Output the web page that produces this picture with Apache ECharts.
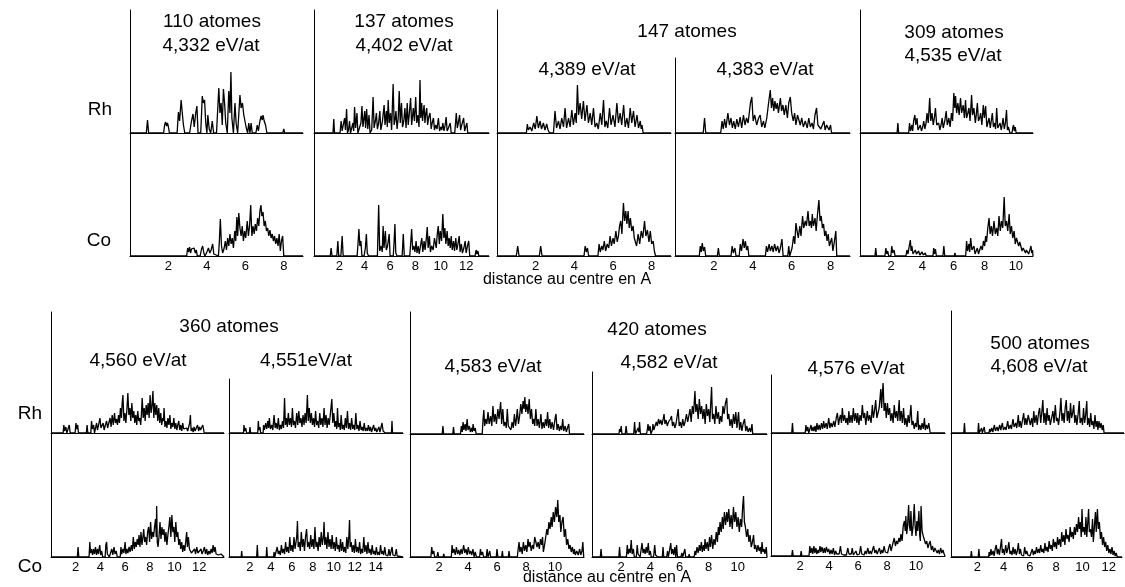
<!DOCTYPE html>
<html><head><meta charset="utf-8">
<script src="https://cdn.jsdelivr.net/npm/echarts@6/dist/echarts.min.js"></script>
<style>html,body{margin:0;padding:0;background:#fff}#c{width:1125px;height:587px}</style>
</head><body><div id="c"></div>
<script>
// ---- data: [distance (Å), intensity] ----
const rh110 = [[0,0],[0.85,0],[0.91,13],[0.97,0],[1.75,0],[1.8,8],[1.85,11],[1.9,7],[1.95,10],[2.0,6],[2.05,0],[2.45,0],[2.52,21],[2.58,12],[2.66,33],[2.72,20],[2.78,8],[2.85,0],[3.1,0],[3.2,12],[3.28,19],[3.34,6],[3.42,20],[3.48,27],[3.54,0],[3.68,0],[3.76,37],[3.82,30],[3.88,33],[3.94,10],[4.0,0],[4.05,18],[4.12,4],[4.2,0],[4.28,12],[4.35,0],[4.5,0],[4.62,45],[4.68,20],[4.74,30],[4.8,8],[4.86,44],[4.92,30],[4.98,10],[5.06,0],[5.14,42],[5.2,20],[5.25,61],[5.3,15],[5.38,0],[5.46,30],[5.52,10],[5.6,0],[5.72,38],[5.78,25],[5.85,30],[5.92,18],[5.98,20],[6.05,5],[6.12,0],[6.18,10],[6.24,0],[6.3,10],[6.36,0],[6.55,0],[6.62,8],[6.68,2],[6.76,12],[6.82,17],[6.88,13],[6.92,18],[6.98,12],[7.05,8],[7.12,0],[7.95,0],[8.0,4],[8.05,0],[9,0]];
const co110 = [[0,0],[1.97,0],[2.0,1],[2.03,0],[2.95,0],[3.0,8],[3.05,4],[3.1,9],[3.15,3],[3.2,7],[3.27,5],[3.33,8],[3.4,3],[3.45,6],[3.5,0],[3.65,0],[3.72,7],[3.78,10],[3.84,3],[3.9,0],[4.0,4],[4.08,8],[4.15,3],[4.22,6],[4.3,12],[4.36,2],[4.42,0],[4.6,0],[4.65,15],[4.7,37],[4.76,10],[4.82,3],[4.9,8],[4.96,15],[5.02,6],[5.08,18],[5.14,10],[5.2,22],[5.26,12],[5.32,18],[5.38,8],[5.45,25],[5.5,15],[5.56,39],[5.6,20],[5.66,43],[5.72,28],[5.78,20],[5.84,30],[5.9,15],[5.96,25],[6.02,18],[6.1,35],[6.16,20],[6.22,30],[6.28,51],[6.34,20],[6.4,30],[6.46,22],[6.52,32],[6.58,25],[6.64,38],[6.7,30],[6.76,45],[6.81,51],[6.86,40],[6.92,44],[6.98,30],[7.04,35],[7.1,25],[7.16,28],[7.22,20],[7.28,26],[7.34,18],[7.4,22],[7.46,15],[7.52,20],[7.58,12],[7.64,18],[7.7,10],[7.76,22],[7.82,5],[7.88,15],[7.94,20],[8.0,0],[9,0]];
const rh137 = [[0,0],[1.5,0],[1.56,14],[1.62,0],[2.05,0],[2.14,12],[2.22,2],[2.3,4],[2.41,15],[2.48,3],[2.57,24],[2.64,0],[2.72,3],[2.8,12],[2.88,0],[3.0,2],[3.07,10],[3.13,2],[3.2,26],[3.28,5],[3.39,20],[3.46,0],[3.6,2],[3.7,10],[3.78,27],[3.86,6],[4.0,22],[4.07,5],[4.15,24],[4.24,4],[4.34,18],[4.42,0],[4.55,3],[4.66,36],[4.74,5],[4.84,12],[4.92,20],[5.0,4],[5.1,10],[5.19,22],[5.27,3],[5.4,12],[5.53,28],[5.6,8],[5.71,22],[5.78,6],[5.85,33],[5.93,10],[6.03,20],[6.12,3],[6.24,49],[6.32,8],[6.4,14],[6.46,22],[6.55,4],[6.64,15],[6.72,42],[6.8,10],[6.9,30],[6.98,6],[7.08,12],[7.17,25],[7.26,5],[7.35,30],[7.43,8],[7.52,20],[7.62,35],[7.7,8],[7.78,18],[7.83,25],[7.92,12],[8.02,36],[8.1,10],[8.2,18],[8.28,6],[8.36,53],[8.42,15],[8.49,30],[8.56,12],[8.63,22],[8.68,28],[8.75,10],[8.82,20],[8.89,25],[8.96,8],[9.05,16],[9.15,20],[9.24,4],[9.32,10],[9.42,15],[9.5,3],[9.6,8],[9.7,4],[9.81,15],[9.9,2],[10.0,6],[10.08,3],[10.16,10],[10.25,2],[10.34,8],[10.42,16],[10.5,2],[10.6,5],[10.74,10],[10.82,0],[11.1,0],[11.22,20],[11.3,5],[11.38,10],[11.48,18],[11.56,3],[11.65,8],[11.8,15],[11.88,2],[11.96,6],[12.06,10],[12.12,0],[13.8,0]];
const co137 = [[0,0],[1.28,0],[1.35,8],[1.42,0],[1.8,0],[1.88,15],[1.95,0],[2.12,0],[2.22,20],[2.3,0],[3.4,0],[3.48,14],[3.54,27],[3.62,10],[3.7,15],[3.78,0],[3.95,0],[4.05,8],[4.13,22],[4.2,3],[4.3,0],[5.0,0],[5.1,51],[5.18,5],[5.3,10],[5.38,4],[5.45,30],[5.52,8],[5.63,25],[5.7,6],[5.8,10],[5.93,22],[6.0,0],[6.25,0],[6.32,15],[6.38,32],[6.45,3],[6.55,0],[6.95,0],[7.04,22],[7.12,0],[7.55,0],[7.62,12],[7.7,27],[7.78,6],[7.88,10],[7.96,4],[8.05,15],[8.12,3],[8.22,10],[8.3,2],[8.42,12],[8.5,18],[8.58,4],[8.68,15],[8.76,6],[8.86,18],[8.93,29],[9.0,8],[9.1,20],[9.18,4],[9.28,10],[9.4,6],[9.5,18],[9.56,20],[9.64,8],[9.72,22],[9.8,30],[9.88,12],[9.96,25],[10.06,15],[10.16,42],[10.24,18],[10.32,28],[10.4,12],[10.5,25],[10.58,10],[10.66,18],[10.74,8],[10.82,20],[10.9,6],[11.0,15],[11.08,5],[11.18,18],[11.26,6],[11.35,12],[11.45,20],[11.52,4],[11.62,12],[11.7,3],[11.82,8],[11.92,15],[12.0,3],[12.1,10],[12.2,15],[12.28,0],[12.7,0],[12.78,6],[12.85,2],[12.92,5],[13.0,0],[13.8,0]];
const rh147a = [[0,0],[1.52,0],[1.57,9],[1.62,3],[1.71,6],[1.8,2],[1.9,10],[1.98,4],[2.06,17],[2.14,5],[2.23,12],[2.3,4],[2.4,10],[2.48,3],[2.57,9],[2.64,3],[2.72,0],[2.92,0],[3.0,22],[3.08,5],[3.18,12],[3.26,4],[3.35,15],[3.44,6],[3.52,25],[3.6,5],[3.7,15],[3.78,6],[3.87,23],[3.95,8],[4.04,20],[4.1,10],[4.16,48],[4.22,18],[4.3,30],[4.38,14],[4.47,32],[4.55,12],[4.65,28],[4.73,10],[4.82,20],[4.9,8],[4.99,25],[5.07,6],[5.16,10],[5.24,4],[5.34,20],[5.42,8],[5.51,33],[5.58,6],[5.65,12],[5.73,5],[5.82,25],[5.9,8],[6.0,18],[6.1,6],[6.2,30],[6.28,10],[6.37,20],[6.45,8],[6.55,28],[6.63,6],[6.72,15],[6.8,5],[6.89,25],[6.97,10],[7.06,22],[7.14,6],[7.24,18],[7.32,5],[7.41,12],[7.46,4],[7.5,8],[7.56,0],[9,0]];
const co147a = [[0,0],[1.0,0],[1.07,10],[1.14,0],[2.19,0],[2.26,10],[2.33,0],[4.5,0],[4.56,10],[4.62,4],[4.68,8],[4.74,0],[5.22,0],[5.28,12],[5.34,4],[5.42,10],[5.48,6],[5.55,15],[5.62,5],[5.7,12],[5.78,8],[5.85,20],[5.92,10],[6.0,18],[6.06,12],[6.15,25],[6.22,14],[6.28,20],[6.34,30],[6.4,35],[6.46,22],[6.54,53],[6.6,35],[6.66,45],[6.72,32],[6.78,45],[6.84,28],[6.9,38],[6.97,25],[7.04,30],[7.1,18],[7.16,20],[7.22,10],[7.3,22],[7.38,12],[7.46,25],[7.54,18],[7.63,35],[7.7,20],[7.78,26],[7.86,14],[7.93,25],[8.0,12],[8.08,15],[8.14,5],[8.2,0],[9,0]];
const rh147b = [[0,0],[1.45,0],[1.52,15],[1.58,0],[2.35,0],[2.42,12],[2.48,4],[2.55,14],[2.62,5],[2.72,20],[2.8,8],[2.88,15],[2.95,5],[3.02,12],[3.1,4],[3.18,14],[3.26,6],[3.35,16],[3.43,5],[3.52,18],[3.6,8],[3.68,15],[3.76,10],[3.88,30],[3.95,36],[4.02,12],[4.1,18],[4.2,8],[4.3,15],[4.38,18],[4.46,6],[4.55,12],[4.62,5],[4.72,15],[4.8,28],[4.9,43],[4.96,25],[5.02,35],[5.08,22],[5.14,32],[5.2,24],[5.26,30],[5.32,20],[5.42,35],[5.48,22],[5.55,28],[5.62,18],[5.7,28],[5.78,15],[5.85,30],[5.93,36],[6.0,20],[6.08,12],[6.15,20],[6.22,8],[6.3,18],[6.36,20],[6.44,8],[6.52,15],[6.6,6],[6.7,12],[6.8,5],[6.88,15],[6.96,6],[7.05,10],[7.12,4],[7.2,18],[7.28,25],[7.35,8],[7.42,10],[7.5,4],[7.58,8],[7.66,12],[7.72,3],[7.8,8],[7.86,10],[7.92,3],[8.0,8],[8.05,0],[9,0]];
const co147b = [[0,0],[1.25,0],[1.3,10],[1.35,4],[1.4,13],[1.46,5],[1.52,9],[1.58,0],[2.18,0],[2.23,8],[2.28,0],[2.88,0],[2.94,10],[3.0,3],[3.08,8],[3.14,0],[3.3,0],[3.36,12],[3.42,5],[3.5,17],[3.56,8],[3.62,15],[3.68,6],[3.74,10],[3.8,0],[4.65,0],[4.7,10],[4.76,4],[4.84,12],[4.9,5],[4.98,10],[5.05,4],[5.12,12],[5.2,5],[5.28,10],[5.35,3],[5.42,8],[5.5,17],[5.56,0],[5.8,0],[5.85,10],[5.9,0],[6.02,8],[6.1,20],[6.16,12],[6.22,33],[6.28,25],[6.34,18],[6.42,30],[6.48,20],[6.56,40],[6.62,28],[6.7,35],[6.76,30],[6.84,45],[6.9,30],[6.96,35],[7.02,28],[7.06,42],[7.12,30],[7.2,38],[7.26,25],[7.32,40],[7.4,56],[7.46,35],[7.52,40],[7.58,28],[7.64,32],[7.7,20],[7.76,25],[7.82,15],[7.88,22],[7.94,10],[8.0,14],[8.06,18],[8.12,5],[8.2,15],[8.27,25],[8.32,0],[9,0]];
const rh309 = [[0,0],[2.38,0],[2.43,10],[2.48,0],[3.12,0],[3.18,10],[3.24,2],[3.33,8],[3.38,2],[3.44,12],[3.52,18],[3.58,8],[3.66,15],[3.72,3],[3.8,5],[3.87,8],[3.94,2],[4.02,6],[4.09,12],[4.16,4],[4.24,10],[4.3,20],[4.38,10],[4.47,35],[4.54,12],[4.62,20],[4.7,8],[4.77,15],[4.84,25],[4.92,8],[5.0,6],[5.05,10],[5.12,3],[5.2,8],[5.27,15],[5.34,5],[5.44,12],[5.53,22],[5.6,8],[5.7,15],[5.78,6],[5.87,20],[5.94,12],[6.02,40],[6.08,25],[6.13,37],[6.2,20],[6.28,30],[6.36,18],[6.45,35],[6.52,20],[6.62,28],[6.7,15],[6.77,33],[6.84,15],[6.92,20],[6.99,25],[7.06,12],[7.16,38],[7.22,18],[7.31,25],[7.4,10],[7.46,18],[7.53,30],[7.6,12],[7.68,15],[7.74,20],[7.82,8],[7.91,28],[7.98,15],[8.06,27],[8.14,6],[8.2,10],[8.28,15],[8.36,5],[8.42,12],[8.49,20],[8.56,6],[8.64,10],[8.7,4],[8.77,25],[8.84,5],[8.92,6],[8.99,10],[9.06,3],[9.12,8],[9.18,15],[9.26,4],[9.33,10],[9.4,23],[9.46,3],[9.52,6],[9.57,8],[9.62,0],[9.75,0],[9.8,5],[9.85,8],[9.9,2],[9.96,6],[10.02,0],[11.1,0]];
const co309 = [[0,0],[0.96,0],[1.01,8],[1.06,0],[1.6,0],[1.66,8],[1.72,2],[1.78,5],[1.84,0],[1.98,0],[2.04,10],[2.1,3],[2.19,6],[2.25,0],[2.95,0],[3.01,6],[3.08,2],[3.16,10],[3.23,16],[3.28,5],[3.33,10],[3.4,2],[3.48,4],[3.55,6],[3.62,2],[3.7,4],[3.76,5],[3.84,1],[3.92,3],[3.98,4],[4.06,1],[4.12,2],[4.19,3],[4.25,0],[4.68,0],[4.73,8],[4.78,2],[4.84,7],[4.9,0],[5.32,0],[5.38,10],[5.44,0],[6.05,0],[6.09,3],[6.13,0],[6.78,0],[6.84,15],[6.9,5],[6.99,12],[7.04,4],[7.1,18],[7.18,6],[7.24,8],[7.31,10],[7.38,2],[7.45,5],[7.53,8],[7.6,2],[7.68,4],[7.76,10],[7.85,6],[7.92,15],[8.0,10],[8.06,20],[8.12,14],[8.2,28],[8.28,38],[8.35,22],[8.43,30],[8.5,20],[8.6,35],[8.68,22],[8.77,28],[8.84,20],[8.92,40],[9.0,25],[9.08,35],[9.16,28],[9.25,59],[9.32,30],[9.4,35],[9.48,25],[9.57,42],[9.64,22],[9.72,30],[9.8,18],[9.89,25],[9.96,12],[10.04,18],[10.1,20],[10.18,10],[10.25,14],[10.32,12],[10.4,5],[10.47,8],[10.54,10],[10.62,3],[10.68,6],[10.75,8],[10.82,2],[10.9,6],[10.97,10],[11.02,3],[11.07,6],[11.1,0]];
const rh360a = [[0,0],[0.98,0],[1.04,8],[1.1,2],[1.2,6],[1.28,0],[1.4,5],[1.48,8],[1.55,0],[1.95,0],[2.02,10],[2.08,4],[2.16,8],[2.22,0],[2.86,0],[2.92,8],[2.98,0],[3.22,0],[3.28,12],[3.35,4],[3.45,8],[3.52,0],[3.64,0],[3.69,10],[3.76,3],[3.85,8],[3.96,15],[4.04,5],[4.12,4],[4.22,10],[4.3,3],[4.4,8],[4.5,12],[4.58,5],[4.68,10],[4.78,15],[4.86,6],[4.95,18],[5.04,8],[5.14,20],[5.22,10],[5.3,14],[5.38,8],[5.46,18],[5.54,10],[5.62,25],[5.7,15],[5.76,30],[5.82,38],[5.9,12],[5.98,20],[6.06,10],[6.15,25],[6.22,40],[6.3,18],[6.38,25],[6.46,12],[6.54,30],[6.62,15],[6.7,22],[6.78,10],[6.86,18],[6.94,8],[7.02,22],[7.1,12],[7.18,15],[7.26,8],[7.32,20],[7.38,35],[7.46,15],[7.54,25],[7.62,12],[7.7,28],[7.78,18],[7.86,30],[7.94,15],[8.02,38],[8.1,20],[8.18,28],[8.25,42],[8.32,15],[8.4,30],[8.48,18],[8.56,28],[8.64,12],[8.72,25],[8.8,10],[8.88,20],[8.96,8],[9.04,15],[9.1,12],[9.15,25],[9.22,6],[9.3,12],[9.38,5],[9.46,15],[9.54,8],[9.62,18],[9.7,4],[9.78,10],[9.86,6],[9.94,15],[10.02,4],[10.1,10],[10.18,3],[10.26,8],[10.34,12],[10.42,3],[10.5,8],[10.58,2],[10.66,10],[10.74,4],[10.82,6],[10.9,2],[10.98,5],[11.06,2],[11.14,4],[11.22,10],[11.28,18],[11.34,2],[11.42,5],[11.5,1],[11.58,6],[11.66,2],[11.76,4],[11.86,8],[11.94,2],[12.02,6],[12.1,3],[12.2,5],[12.28,8],[12.35,10],[12.4,0],[14,0]];
const co360a = [[0,0],[2.13,0],[2.19,10],[2.25,0],[3.08,0],[3.14,15],[3.2,4],[3.28,8],[3.36,2],[3.44,8],[3.52,3],[3.6,10],[3.68,2],[3.76,8],[3.84,3],[3.94,12],[4.02,2],[4.1,6],[4.18,0],[4.38,0],[4.44,12],[4.5,15],[4.56,3],[4.64,5],[4.72,0],[4.86,0],[4.92,8],[5.0,2],[5.1,10],[5.18,3],[5.28,6],[5.36,0],[5.6,0],[5.66,10],[5.72,3],[5.82,8],[5.9,4],[6.0,15],[6.06,3],[6.14,8],[6.22,4],[6.32,10],[6.4,5],[6.5,12],[6.58,6],[6.66,20],[6.74,8],[6.82,15],[6.9,10],[6.98,18],[7.06,12],[7.12,22],[7.2,10],[7.28,25],[7.36,12],[7.44,20],[7.5,28],[7.58,15],[7.66,20],[7.74,12],[7.82,25],[7.9,30],[7.98,15],[8.06,35],[8.14,18],[8.22,25],[8.3,20],[8.38,30],[8.46,38],[8.52,20],[8.55,51],[8.6,15],[8.66,10],[8.74,20],[8.82,35],[8.9,18],[8.98,30],[9.06,22],[9.14,28],[9.22,15],[9.3,25],[9.38,12],[9.46,22],[9.54,30],[9.62,40],[9.7,20],[9.78,42],[9.86,25],[9.94,30],[10.02,15],[10.1,35],[10.18,20],[10.26,25],[10.34,12],[10.42,18],[10.5,8],[10.58,15],[10.66,5],[10.74,12],[10.82,6],[10.9,15],[10.98,25],[11.04,10],[11.12,20],[11.2,8],[11.28,10],[11.36,4],[11.44,6],[11.52,2],[11.62,8],[11.7,3],[11.8,10],[11.88,4],[11.96,6],[12.04,2],[12.14,8],[12.22,3],[12.32,6],[12.42,10],[12.5,3],[12.6,8],[12.68,2],[12.78,6],[12.86,3],[12.96,8],[13.04,4],[13.12,12],[13.2,5],[13.28,10],[13.36,3],[13.46,5],[13.56,2],[13.66,4],[13.76,3],[13.86,2],[14,0]];
const rh360b = [[0,0],[1.38,0],[1.43,8],[1.5,2],[1.6,5],[1.68,0],[1.95,0],[2.0,6],[2.06,0],[2.74,0],[2.8,12],[2.86,3],[2.95,6],[3.02,0],[3.25,0],[3.3,8],[3.38,3],[3.5,10],[3.6,4],[3.7,12],[3.78,5],[3.85,15],[3.95,4],[4.08,8],[4.18,3],[4.3,18],[4.4,5],[4.5,10],[4.6,4],[4.71,15],[4.8,3],[4.9,8],[5.0,4],[5.1,12],[5.2,5],[5.3,35],[5.38,8],[5.48,15],[5.56,6],[5.66,20],[5.76,8],[5.86,15],[5.96,6],[6.05,25],[6.14,8],[6.24,12],[6.34,5],[6.46,20],[6.56,8],[6.66,22],[6.76,10],[6.86,15],[6.96,6],[7.06,18],[7.16,8],[7.26,20],[7.36,10],[7.48,38],[7.56,12],[7.66,25],[7.76,10],[7.86,20],[7.96,8],[8.06,15],[8.16,6],[8.26,22],[8.36,8],[8.46,12],[8.56,5],[8.66,20],[8.76,8],[8.86,15],[8.96,6],[9.07,25],[9.16,8],[9.26,18],[9.36,5],[9.46,15],[9.56,8],[9.68,20],[9.81,34],[9.9,10],[10.0,20],[10.1,6],[10.2,12],[10.28,4],[10.35,25],[10.44,6],[10.54,10],[10.62,3],[10.7,18],[10.8,4],[10.9,8],[11.0,3],[11.1,15],[11.2,5],[11.3,22],[11.4,4],[11.5,10],[11.6,3],[11.7,15],[11.8,4],[11.9,8],[12.0,3],[12.1,20],[12.2,4],[12.3,8],[12.4,2],[12.5,12],[12.6,3],[12.7,6],[12.8,2],[12.9,10],[13.0,2],[13.1,5],[13.2,2],[13.3,8],[13.4,2],[13.5,6],[13.6,1],[13.8,8],[13.9,2],[14.0,5],[14.1,1],[14.3,6],[14.4,1],[14.6,10],[14.7,2],[14.8,4],[14.9,0],[15.5,0],[15.55,12],[15.6,0],[16.6,0]];
const co360b = [[0,0],[1.16,0],[1.21,6],[1.26,0],[2.64,0],[2.7,12],[2.76,0],[3.55,0],[3.6,10],[3.66,0],[4.25,0],[4.3,5],[4.36,0],[4.55,0],[4.6,10],[4.7,3],[4.8,6],[4.9,2],[5.0,12],[5.1,4],[5.2,8],[5.3,3],[5.4,15],[5.5,5],[5.6,10],[5.7,4],[5.8,20],[5.9,6],[6.0,12],[6.1,5],[6.2,20],[6.3,8],[6.4,10],[6.46,20],[6.53,36],[6.6,10],[6.7,15],[6.8,6],[6.9,25],[7.0,10],[7.1,18],[7.2,6],[7.3,20],[7.4,28],[7.5,10],[7.6,15],[7.7,8],[7.8,22],[7.9,10],[8.0,18],[8.1,8],[8.2,30],[8.3,10],[8.4,15],[8.5,6],[8.6,20],[8.7,10],[8.8,25],[8.9,12],[9.0,20],[9.07,35],[9.14,12],[9.24,20],[9.34,8],[9.44,25],[9.54,10],[9.64,18],[9.74,8],[9.84,22],[9.94,8],[10.04,15],[10.14,6],[10.24,20],[10.34,8],[10.44,12],[10.54,5],[10.64,18],[10.74,6],[10.84,15],[10.94,5],[11.04,10],[11.14,4],[11.24,20],[11.34,8],[11.44,22],[11.5,37],[11.56,10],[11.66,15],[11.76,5],[11.86,12],[11.96,4],[12.06,18],[12.16,5],[12.26,10],[12.36,4],[12.46,15],[12.56,3],[12.66,8],[12.76,4],[12.86,20],[12.96,5],[13.06,12],[13.16,3],[13.26,15],[13.36,4],[13.46,8],[13.56,2],[13.66,12],[13.76,3],[13.86,6],[13.96,2],[14.06,10],[14.16,2],[14.26,5],[14.36,2],[14.46,12],[14.56,3],[14.66,6],[14.76,2],[14.86,10],[14.96,2],[15.06,4],[15.16,1],[15.26,8],[15.36,1],[15.46,3],[15.56,10],[15.64,2],[15.74,4],[15.84,1],[15.96,8],[16.04,1],[16.14,3],[16.2,0],[16.6,0]];
const rh420a = [[0,0],[2.22,0],[2.27,8],[2.32,0],[2.95,0],[3.0,7],[3.05,0],[3.48,0],[3.54,8],[3.6,2],[3.66,12],[3.72,4],[3.8,10],[3.86,3],[3.94,15],[4.0,4],[4.1,8],[4.16,2],[4.24,6],[4.3,2],[4.35,10],[4.42,3],[4.5,6],[4.56,0],[4.98,0],[5.04,15],[5.09,24],[5.15,8],[5.22,15],[5.3,10],[5.38,22],[5.46,10],[5.56,18],[5.64,8],[5.72,28],[5.8,12],[5.88,20],[5.96,10],[6.06,25],[6.14,15],[6.25,32],[6.32,10],[6.4,25],[6.48,8],[6.56,12],[6.64,6],[6.71,25],[6.78,8],[6.88,10],[6.96,4],[7.04,12],[7.12,6],[7.2,20],[7.28,8],[7.34,15],[7.4,25],[7.48,10],[7.56,18],[7.64,30],[7.72,20],[7.8,33],[7.86,25],[7.92,37],[7.98,22],[8.06,30],[8.14,20],[8.22,35],[8.3,15],[8.38,25],[8.46,10],[8.54,15],[8.6,8],[8.68,25],[8.76,8],[8.84,15],[8.92,6],[9.03,20],[9.1,5],[9.18,12],[9.26,6],[9.34,15],[9.42,8],[9.49,22],[9.56,6],[9.64,15],[9.72,5],[9.8,12],[9.9,4],[10.0,15],[10.07,20],[10.14,4],[10.22,10],[10.3,3],[10.38,8],[10.46,4],[10.53,15],[10.6,3],[10.7,8],[10.78,2],[10.86,6],[10.95,10],[11.0,0],[12,0]];
const co420a = [[0,0],[1.44,0],[1.5,10],[1.56,3],[1.64,6],[1.7,0],[1.86,0],[1.92,5],[1.98,0],[2.28,0],[2.33,3],[2.38,0],[2.85,0],[2.9,12],[2.96,4],[3.04,8],[3.12,2],[3.2,10],[3.28,3],[3.36,7],[3.44,2],[3.52,8],[3.6,3],[3.7,12],[3.78,4],[3.86,8],[3.94,2],[4.02,10],[4.1,3],[4.18,6],[4.26,2],[4.34,8],[4.42,0],[4.5,5],[4.58,0],[4.8,0],[4.86,8],[4.92,2],[5.0,5],[5.08,0],[5.26,0],[5.32,8],[5.38,0],[5.46,0],[5.5,6],[5.56,0],[5.95,0],[6.0,8],[6.06,0],[6.32,0],[6.37,6],[6.42,0],[6.78,0],[6.83,6],[6.88,0],[7.4,0],[7.46,8],[7.52,15],[7.58,5],[7.66,10],[7.74,3],[7.82,15],[7.9,6],[7.98,12],[8.06,5],[8.14,18],[8.2,10],[8.28,15],[8.36,6],[8.44,12],[8.52,8],[8.6,20],[8.68,22],[8.76,10],[8.84,15],[8.92,8],[9.0,18],[9.08,12],[9.14,20],[9.2,5],[9.28,12],[9.36,20],[9.44,28],[9.5,22],[9.58,35],[9.66,28],[9.74,40],[9.8,30],[9.88,45],[9.96,35],[10.04,50],[10.12,40],[10.19,57],[10.26,35],[10.34,42],[10.4,25],[10.48,35],[10.56,40],[10.64,20],[10.72,28],[10.8,12],[10.88,18],[10.96,8],[11.04,12],[11.12,5],[11.2,10],[11.28,3],[11.34,8],[11.4,2],[11.5,6],[11.6,2],[11.7,8],[11.78,2],[11.86,6],[11.92,15],[11.98,0],[12,0]];
const rh420b = [[0,0],[1.85,0],[1.89,5],[1.94,2],[2.0,8],[2.05,0],[2.28,0],[2.34,8],[2.4,0],[2.86,0],[2.92,12],[2.98,0],[3.1,0],[3.16,6],[3.22,2],[3.26,12],[3.32,0],[3.74,0],[3.8,5],[3.84,10],[3.9,3],[3.98,8],[4.04,0],[4.14,4],[4.18,10],[4.24,4],[4.32,8],[4.41,12],[4.48,8],[4.56,15],[4.64,10],[4.72,14],[4.8,9],[4.88,15],[4.94,20],[5.0,10],[5.08,14],[5.16,8],[5.24,12],[5.32,10],[5.38,15],[5.45,18],[5.52,8],[5.6,12],[5.68,6],[5.76,10],[5.84,8],[5.91,25],[5.98,8],[6.06,12],[6.14,6],[6.22,15],[6.3,8],[6.38,12],[6.48,20],[6.56,12],[6.64,18],[6.72,25],[6.8,12],[6.88,28],[6.96,20],[7.06,43],[7.12,22],[7.2,30],[7.28,15],[7.36,35],[7.44,20],[7.52,28],[7.6,15],[7.68,25],[7.76,10],[7.84,30],[7.92,18],[8.0,25],[8.08,12],[8.14,30],[8.2,47],[8.26,15],[8.34,20],[8.42,10],[8.5,28],[8.58,15],[8.67,22],[8.74,10],[8.82,18],[8.9,12],[8.98,28],[9.06,20],[9.14,30],[9.24,36],[9.3,15],[9.38,20],[9.46,8],[9.54,15],[9.62,6],[9.7,20],[9.78,10],[9.86,22],[9.94,6],[10.05,22],[10.12,4],[10.2,12],[10.28,3],[10.36,10],[10.46,15],[10.54,3],[10.62,8],[10.7,2],[10.8,6],[10.88,2],[10.97,10],[11.02,0],[12,0]];
const co420b = [[0,0],[0.57,0],[0.62,8],[0.67,0],[1.84,0],[1.89,10],[1.94,0],[2.36,0],[2.42,12],[2.48,3],[2.56,8],[2.62,4],[2.69,17],[2.75,3],[2.84,8],[2.9,0],[3.04,0],[3.1,12],[3.16,3],[3.24,5],[3.3,0],[3.38,0],[3.43,14],[3.5,4],[3.58,8],[3.64,3],[3.72,10],[3.78,4],[3.86,14],[3.92,2],[4.0,6],[4.06,0],[4.22,0],[4.3,12],[4.36,2],[4.44,4],[4.5,0],[4.82,0],[4.87,10],[4.92,0],[5.12,0],[5.18,6],[5.24,0],[5.34,0],[5.4,14],[5.46,3],[5.54,8],[5.6,2],[5.68,10],[5.74,0],[5.8,12],[5.86,0],[6.1,0],[6.16,4],[6.22,0],[6.32,0],[6.37,8],[6.42,0],[6.62,0],[6.66,3],[6.7,0],[7.0,0],[7.06,6],[7.12,2],[7.2,10],[7.28,4],[7.36,12],[7.42,6],[7.5,15],[7.56,5],[7.64,12],[7.7,6],[7.75,18],[7.82,8],[7.9,15],[7.98,6],[8.06,20],[8.12,10],[8.2,22],[8.28,8],[8.36,18],[8.44,12],[8.52,25],[8.6,15],[8.66,30],[8.72,22],[8.78,35],[8.86,25],[8.94,40],[9.0,28],[9.08,45],[9.16,32],[9.24,45],[9.3,35],[9.38,48],[9.46,30],[9.54,42],[9.62,28],[9.7,50],[9.78,35],[9.86,45],[9.94,30],[10.02,40],[10.1,25],[10.18,38],[10.26,30],[10.33,50],[10.39,61],[10.45,35],[10.52,30],[10.6,20],[10.68,28],[10.76,15],[10.84,22],[10.92,10],[11.0,15],[11.08,22],[11.14,8],[11.22,12],[11.3,5],[11.38,12],[11.46,6],[11.54,10],[11.6,3],[11.66,15],[11.72,5],[11.8,8],[11.86,3],[11.95,10],[12,0]];
const rh420c = [[0,0],[1.43,0],[1.48,10],[1.53,0],[2.36,0],[2.41,8],[2.46,2],[2.54,6],[2.6,0],[2.7,0],[2.76,8],[2.82,2],[2.9,6],[2.96,2],[3.04,7],[3.1,1],[3.17,10],[3.24,3],[3.32,8],[3.4,3],[3.48,10],[3.56,4],[3.63,12],[3.7,5],[3.8,10],[3.88,4],[3.98,15],[4.06,5],[4.14,10],[4.22,6],[4.33,12],[4.4,6],[4.5,15],[4.58,20],[4.66,8],[4.72,14],[4.79,18],[4.86,10],[4.92,25],[5.0,12],[5.08,18],[5.16,10],[5.24,15],[5.3,8],[5.37,22],[5.44,10],[5.52,18],[5.6,10],[5.68,25],[5.76,12],[5.84,20],[5.92,10],[5.98,20],[6.06,8],[6.14,18],[6.22,12],[6.3,28],[6.38,15],[6.46,20],[6.54,8],[6.64,22],[6.72,12],[6.8,18],[6.9,10],[6.99,28],[7.06,15],[7.14,22],[7.22,33],[7.3,15],[7.38,20],[7.46,25],[7.52,35],[7.57,44],[7.63,25],[7.68,40],[7.73,50],[7.8,22],[7.88,30],[7.95,15],[8.03,30],[8.1,18],[8.18,25],[8.26,12],[8.34,20],[8.42,10],[8.5,28],[8.58,15],[8.66,22],[8.74,12],[8.84,33],[8.9,12],[8.98,22],[9.06,10],[9.14,25],[9.22,8],[9.3,15],[9.38,6],[9.46,18],[9.54,10],[9.65,28],[9.72,8],[9.8,12],[9.88,4],[9.96,10],[10.04,6],[10.12,22],[10.18,3],[10.26,8],[10.34,3],[10.42,10],[10.5,4],[10.58,15],[10.64,3],[10.72,8],[10.8,4],[10.88,10],[10.93,12],[10.98,0],[12,0]];
const co420c = [[0,0],[1.43,0],[1.48,6],[1.53,0],[2.03,0],[2.08,5],[2.13,0],[2.62,0],[2.68,10],[2.74,3],[2.82,8],[2.88,2],[2.96,10],[3.02,3],[3.1,8],[3.16,2],[3.24,6],[3.3,3],[3.38,10],[3.44,4],[3.52,9],[3.6,3],[3.68,8],[3.74,3],[3.82,9],[3.9,4],[3.98,7],[4.06,2],[4.14,6],[4.22,2],[4.3,8],[4.38,1],[4.46,5],[4.54,2],[4.62,4],[4.7,2],[4.79,10],[4.86,2],[4.94,4],[5.02,1],[5.1,3],[5.2,1],[5.3,8],[5.38,2],[5.46,4],[5.54,2],[5.6,8],[5.68,1],[5.76,3],[5.86,5],[5.94,1],[6.02,3],[6.1,2],[6.18,10],[6.26,2],[6.34,4],[6.42,1],[6.5,5],[6.58,2],[6.68,8],[6.76,2],[6.84,5],[6.92,2],[7.0,4],[7.08,10],[7.16,3],[7.24,6],[7.32,2],[7.4,5],[7.48,8],[7.56,2],[7.64,6],[7.72,3],[7.8,10],[7.88,4],[7.96,6],[8.04,3],[8.12,8],[8.2,12],[8.28,5],[8.36,10],[8.44,8],[8.5,18],[8.58,10],[8.66,15],[8.74,12],[8.82,18],[8.9,14],[8.96,22],[9.04,15],[9.12,30],[9.2,35],[9.26,25],[9.3,40],[9.36,22],[9.42,30],[9.49,51],[9.55,30],[9.6,25],[9.65,45],[9.72,20],[9.8,30],[9.88,52],[9.94,30],[10.0,20],[10.06,35],[10.12,25],[10.2,45],[10.26,20],[10.3,15],[10.35,50],[10.42,25],[10.5,20],[10.58,18],[10.66,12],[10.74,15],[10.82,8],[10.9,12],[10.98,15],[11.06,6],[11.14,10],[11.22,4],[11.3,8],[11.38,10],[11.46,3],[11.54,6],[11.62,2],[11.7,8],[11.78,3],[11.86,6],[11.94,2],[12,0]];
const rh500 = [[0,0],[0.96,0],[1.01,10],[1.06,0],[2.02,0],[2.07,10],[2.12,0],[2.26,0],[2.3,5],[2.35,0],[2.45,0],[2.5,6],[2.56,0],[2.86,0],[2.9,4],[2.96,1],[3.06,5],[3.14,1],[3.26,8],[3.34,2],[3.46,6],[3.54,2],[3.66,8],[3.74,3],[3.86,10],[3.94,3],[4.06,6],[4.14,3],[4.26,12],[4.34,4],[4.46,8],[4.54,4],[4.66,14],[4.74,6],[4.86,10],[4.94,5],[5.06,18],[5.12,6],[5.2,12],[5.28,5],[5.36,12],[5.46,20],[5.54,8],[5.62,15],[5.7,8],[5.8,18],[5.88,20],[5.96,8],[6.06,15],[6.14,6],[6.22,22],[6.3,10],[6.4,18],[6.48,8],[6.58,20],[6.66,25],[6.74,10],[6.82,20],[6.9,33],[6.98,10],[7.06,20],[7.14,8],[7.22,25],[7.3,12],[7.38,18],[7.46,8],[7.56,15],[7.66,22],[7.74,10],[7.84,28],[7.92,12],[8.0,15],[8.08,8],[8.18,20],[8.26,35],[8.34,12],[8.42,20],[8.5,10],[8.58,25],[8.66,33],[8.74,12],[8.82,22],[8.9,10],[8.98,30],[9.06,15],[9.14,20],[9.22,28],[9.3,10],[9.38,18],[9.46,8],[9.56,20],[9.64,32],[9.7,10],[9.8,15],[9.88,8],[9.96,25],[10.04,10],[10.12,18],[10.2,32],[10.26,8],[10.34,15],[10.42,6],[10.5,20],[10.58,8],[10.66,12],[10.74,4],[10.82,18],[10.9,6],[10.98,12],[11.04,3],[11.12,12],[11.2,5],[11.28,10],[11.36,3],[11.44,8],[11.5,0],[13,0]];
const co500 = [[0,0],[1.5,0],[1.55,6],[1.6,0],[2.07,0],[2.12,8],[2.17,0],[2.86,0],[2.9,5],[2.96,1],[3.04,8],[3.1,2],[3.2,6],[3.28,1],[3.36,8],[3.44,12],[3.52,3],[3.6,8],[3.68,2],[3.76,10],[3.84,18],[3.9,4],[3.98,8],[4.06,2],[4.16,12],[4.24,4],[4.32,8],[4.4,15],[4.48,3],[4.56,6],[4.64,2],[4.72,10],[4.8,3],[4.88,8],[4.96,2],[5.04,6],[5.12,14],[5.2,3],[5.28,8],[5.36,2],[5.44,4],[5.52,1],[5.6,10],[5.68,3],[5.76,6],[5.84,2],[5.92,4],[6.0,1],[6.1,3],[6.18,8],[6.26,2],[6.34,6],[6.42,3],[6.5,10],[6.58,4],[6.66,8],[6.74,4],[6.82,12],[6.9,5],[6.98,8],[7.06,4],[7.14,14],[7.22,6],[7.3,10],[7.38,5],[7.46,16],[7.54,8],[7.62,12],[7.7,6],[7.78,18],[7.86,10],[7.94,15],[8.02,8],[8.1,20],[8.18,12],[8.26,18],[8.34,10],[8.42,25],[8.5,15],[8.58,22],[8.66,12],[8.74,28],[8.82,18],[8.9,22],[8.98,15],[9.06,30],[9.14,20],[9.22,25],[9.3,18],[9.38,30],[9.46,22],[9.54,33],[9.62,25],[9.7,40],[9.76,28],[9.84,35],[9.9,20],[9.96,48],[10.02,25],[10.1,30],[10.18,22],[10.26,40],[10.32,20],[10.4,35],[10.46,48],[10.52,25],[10.6,28],[10.68,20],[10.76,38],[10.82,15],[10.9,30],[10.98,45],[11.04,25],[11.13,48],[11.2,28],[11.28,35],[11.36,18],[11.44,25],[11.52,12],[11.6,20],[11.68,10],[11.76,15],[11.84,6],[11.92,12],[12.0,4],[12.08,8],[12.16,3],[12.24,10],[12.32,2],[12.4,6],[12.48,1],[12.56,4],[12.64,0],[13,0]];

// tick labels (distance au centre en Å)
const ticks110 = [2,4,6,8];
const ticks137 = [2,4,6,8,10,12];
const ticks147 = [2,4,6,8];
const ticks309 = [2,4,6,8,10];
const ticks360a = [2,4,6,8,10,12];
const ticks360b = [2,4,6,8,10,12,14];
const ticks420 = [2,4,6,8,10];
const ticks500 = [2,4,6,8,10,12];

// ---- layout ----
const panels = [
  {rh: rh110, co: co110, ticks: ticks110, left: 130, width: 173, top: 10, base: 133, bottom: 256, max: 9},
  {rh: rh137, co: co137, ticks: ticks137, left: 314, width: 175, top: 10, base: 133, bottom: 256, max: 13.8},
  {rh: rh147a, co: co147a, ticks: ticks147, left: 497, width: 174, top: 10, base: 133, bottom: 256, max: 9},
  {rh: rh147b, co: co147b, ticks: ticks147, left: 675, width: 175, top: 58, base: 133, bottom: 256, max: 9},
  {rh: rh309, co: co309, ticks: ticks309, left: 860, width: 173, top: 10, base: 133, bottom: 256, max: 11.1},
  {rh: rh360a, co: co360a, ticks: ticks360a, left: 51, width: 173, top: 312, base: 433, bottom: 557, max: 14},
  {rh: rh360b, co: co360b, ticks: ticks360b, left: 229, width: 174, top: 379, base: 433, bottom: 557, max: 16.6},
  {rh: rh420a, co: co420a, ticks: ticks420, left: 410, width: 174, top: 312, base: 434, bottom: 557, max: 12},
  {rh: rh420b, co: co420b, ticks: ticks420, left: 592, width: 175, top: 372, base: 434, bottom: 557, max: 12},
  {rh: rh420c, co: co420c, ticks: ticks420, left: 771, width: 174, top: 375, base: 433, bottom: 556, max: 12},
  {rh: rh500, co: co500, ticks: ticks500, left: 951, width: 173, top: 311, base: 433, bottom: 557, max: 13}
];

const texts = [
  ['110 atomes', 212, 22], ['4,332 eV/at', 211, 46],
  ['137 atomes', 404, 22], ['4,402 eV/at', 404, 46],
  ['147 atomes', 687, 32],
  ['4,389 eV/at', 587, 70], ['4,383 eV/at', 765, 70],
  ['309 atomes', 954, 33], ['4,535 eV/at', 953, 56],
  ['360 atomes', 229, 327], ['4,560 eV/at', 138, 361], ['4,551eV/at', 306, 361],
  ['420 atomes', 657, 330], ['4,583 eV/at', 493, 367], ['4,582 eV/at', 669, 363], ['4,576 eV/at', 856, 369],
  ['500 atomes', 1040, 344], ['4,608 eV/at', 1039, 367],
  ['Rh', 100, 110], ['Co', 99, 241], ['Rh', 30, 414], ['Co', 30, 567]
];
const axisTitles = [['distance au centre en A', 567, 280], ['distance au centre en A', 607, 578]];

const FONT = '"Liberation Sans", Arial, Helvetica, sans-serif';
const lineCol = '#000';
const grid = [], xAxis = [], yAxis = [], series = [];
panels.forEach((p, i) => {
  const hR = p.base - p.top, hC = p.bottom - p.base;
  grid.push({left: p.left, width: p.width, top: p.top, height: hR});
  grid.push({left: p.left, width: p.width, top: p.base, height: hC});
  const common = {type: 'value', min: 0, max: p.max, interval: 2, splitLine: {show: false}, axisTick: {show: false},
    axisLine: {show: true, lineStyle: {color: lineCol, width: 1}}};
  xAxis.push(Object.assign({gridIndex: 2 * i, axisLabel: {show: false}}, common));
  xAxis.push(Object.assign({gridIndex: 2 * i + 1, axisLabel: {show: true, margin: 4, color: '#000', fontSize: 13, fontFamily: FONT,
    formatter: v => p.ticks.indexOf(v) >= 0 ? String(v) : ''}}, common));
  [hR, hC].forEach((h, k) => yAxis.push({gridIndex: 2 * i + k, type: 'value', min: 0, max: h,
    axisLine: {show: true, onZero: false, lineStyle: {color: lineCol, width: 1}}, axisTick: {show: false},
    axisLabel: {show: false}, splitLine: {show: false}}));
  [p.rh, p.co].forEach((d, k) => series.push({type: 'line', xAxisIndex: 2 * i + k, yAxisIndex: 2 * i + k, data: d,
    showSymbol: false, symbol: 'none', silent: true, lineStyle: {color: '#000', width: 1.3}}));
});

const graphic = texts.map(t => ({type: 'text', x: t[1], y: t[2], silent: true,
  style: {text: t[0], font: '19px ' + FONT, fill: '#000', align: 'center', verticalAlign: 'middle'}}))
  .concat(axisTitles.map(t => ({type: 'text', x: t[1], y: t[2], silent: true,
  style: {text: t[0], font: '16px ' + FONT, fill: '#000', align: 'center', verticalAlign: 'middle'}})));

const chart = echarts.init(document.getElementById('c'), null, {renderer: 'canvas'});
chart.setOption({animation: false, backgroundColor: '#fff', grid, xAxis, yAxis, series, graphic});
</script></body></html>
